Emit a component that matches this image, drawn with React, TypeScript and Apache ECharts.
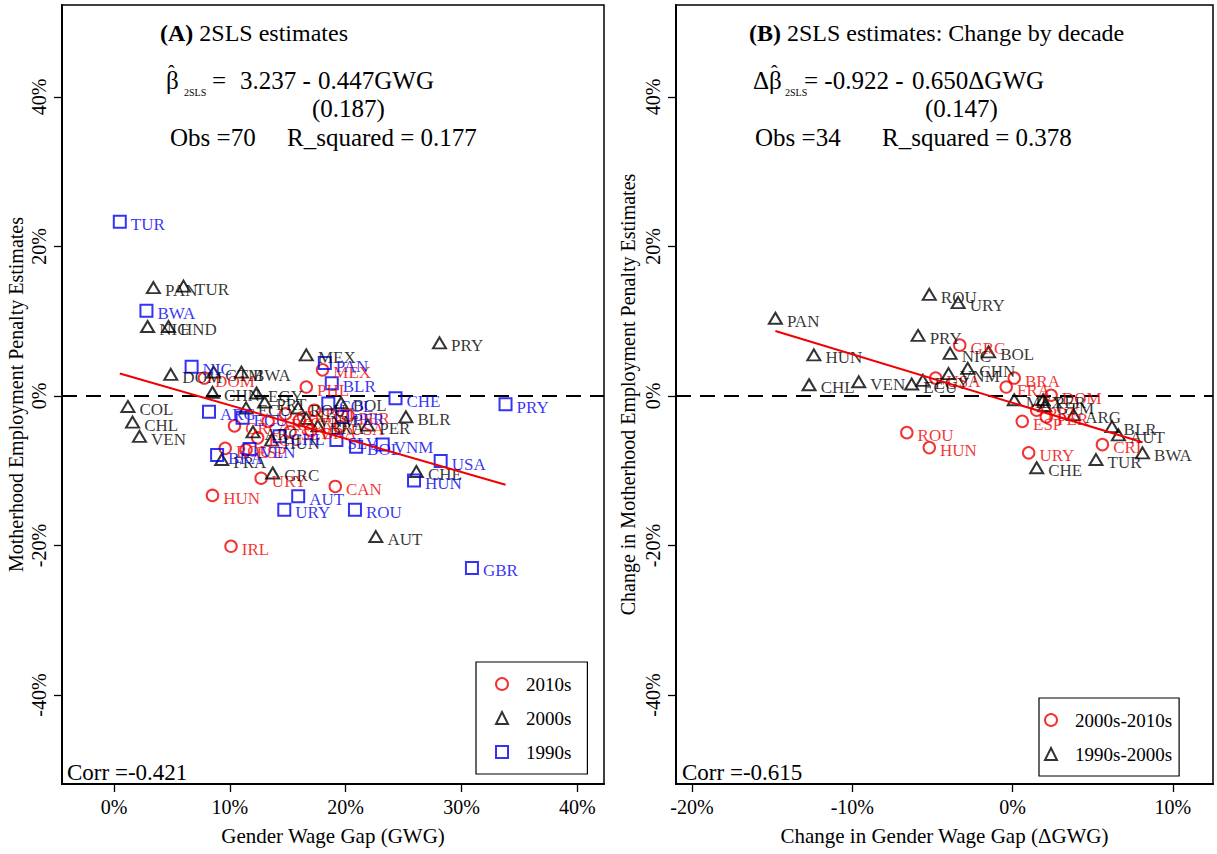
import React, { useEffect, useRef } from "react";
import * as echarts from "echarts";

const FONT = "'Liberation Serif', 'Times New Roman', Times, serif";
const RED = "#f00000";
const BLUE = "#0000f0";
const BLACK = "#000000";

// ---------- Panel A: levels (GWG %, penalty %) ----------
const a2010s: [string, number, number][] = [
  ["MEX", 18.0, 3.5], ["PHL", 16.6, 1.2], ["DOM", 7.8, 2.4], ["GRC", 10.4, -4.0],
  ["ROU", 9.6, -7.0], ["ESP", 11.4, -7.2], ["HUN", 8.5, -13.3], ["IRL", 10.1, -20.1],
  ["URY", 12.7, -11.0], ["CAN", 19.1, -12.1], ["ARG", 13.3, -3.4], ["CHL", 14.8, -2.4],
  ["CRI", 16.0, -3.3], ["BOL", 17.3, -1.9], ["BRA", 17.0, -4.6], ["USA", 19.5, -4.1],
  ["PER", 20.2, -2.6], ["ECU", 12.4, -5.6], ["SLV", 15.2, -4.8],
];
const a2000s: [string, number, number][] = [
  ["PAN", 3.4, 14.5], ["TUR", 6.0, 14.7], ["NIC", 2.9, 9.3], ["HND", 4.7, 9.3],
  ["DOM", 4.9, 2.9], ["GTM", 8.6, 3.2], ["BWA", 11.0, 3.2], ["MEX", 16.6, 5.5],
  ["PRY", 28.1, 7.1], ["CHN", 8.5, 0.5], ["EGY", 12.3, 0.4], ["PRT", 13.0, -0.8],
  ["ECU", 11.4, -1.6], ["COL", 1.2, -1.4], ["CHL", 1.6, -3.5], ["VEN", 2.2, -5.4],
  ["ARG", 12.0, -4.8], ["HUN", 13.6, -5.9], ["FRA", 9.3, -8.5], ["GRC", 13.7, -10.3],
  ["ROU", 15.9, -1.6], ["VNM", 16.6, -3.0], ["BRA", 17.6, -4.0], ["BOL", 19.6, -0.9],
  ["PER", 21.9, -3.9], ["BLR", 25.2, -2.8], ["CHE", 26.1, -10.1], ["AUT", 22.6, -18.8],
];
const a1990s: [string, number, number][] = [
  ["TUR", 0.5, 23.3], ["BWA", 2.8, 11.4], ["NIC", 6.7, 3.9], ["PAN", 18.2, 4.4],
  ["BLR", 18.8, 1.7], ["CHE", 24.3, -0.3], ["PRY", 33.8, -1.1], ["USA", 28.2, -8.7],
  ["HUN", 25.9, -11.3], ["ROU", 20.8, -15.2], ["GBR", 30.9, -23.0], ["AUT", 15.9, -13.4],
  ["URY", 14.7, -15.2], ["ARG", 8.2, -2.1], ["BRA", 8.9, -7.9], ["VEN", 11.7, -7.1],
  ["ECU", 11.1, -2.9], ["CHL", 14.3, -5.4], ["COL", 18.5, -1.0], ["PER", 19.7, -2.8],
  ["SLV", 19.2, -5.9], ["BOL", 20.9, -6.8], ["VNM", 23.2, -6.5],
];

// ---------- Panel B: changes by decade ----------
const b0010: [string, number, number][] = [
  ["ROU", -6.6, -4.9], ["HUN", -5.2, -6.9], ["GRC", -3.3, 6.8], ["USA", -4.8, 2.4],
  ["BRA", 0.1, 2.4], ["FRA", -0.4, 1.2], ["DOM", 2.4, 0.1], ["ESP", 0.6, -3.4],
  ["PRT", 1.5, -1.9], ["PER", 2.1, -2.8], ["URY", 1.0, -7.6], ["CRI", 5.6, -6.5],
];
const b9000: [string, number, number][] = [
  ["PAN", -14.8, 10.4], ["HUN", -12.4, 5.5], ["CHL", -12.7, 1.5], ["VEN", -9.6, 1.9],
  ["ECU", -6.3, 1.6], ["EGY", -5.6, 2.1], ["ROU", -5.2, 13.6], ["URY", -3.4, 12.5],
  ["PRY", -5.9, 8.1], ["NIC", -3.9, 5.7], ["BOL", -1.5, 5.9], ["CHN", -2.8, 3.7],
  ["VNM", -4.0, 3.0], ["MEX", 0.1, -0.5], ["PER", 1.9, -0.5], ["GTM", 2.0, -1.3],
  ["ARG", 3.8, -2.5], ["BLR", 6.2, -4.1], ["AUT", 6.6, -5.2], ["BWA", 8.1, -7.6],
  ["TUR", 5.2, -8.5], ["CHE", 1.5, -9.6],
];

// fitted lines (coefficients shown in the figure)
const fitA = { intercept: 3.237, slope: -0.447 };
const fitB = { intercept: -0.922, slope: -0.65 };

const xTicksA = [0, 10, 20, 30, 40];
const xTicksB = [-20, -10, 0, 10];
const yTicks = [-40, -20, 0, 20, 40];

const textStyle = (size: number, extra: any = {}) => ({
  font: `${size}px ${FONT}`,
  fontFamily: FONT,
  fontSize: size,
  fill: "#000",
  textVerticalAlign: "middle",
  verticalAlign: "middle",
  ...extra,
});

function scatter(name: string, rows: [string, number, number][], symbol: string, size: any, color: string, idx: number) {
  return {
    type: "scatter",
    name,
    xAxisIndex: idx,
    yAxisIndex: idx,
    symbol,
    symbolSize: size,
    data: rows.map((r) => ({ name: r[0], value: [r[1], r[2]] })),
    itemStyle: { color: "rgba(0,0,0,0)", borderColor: color, borderWidth: 2 },
    label: {
      show: true,
      position: "right",
      distance: 4,
      offset: [0, 3],
      formatter: "{b}",
      color,
      fontFamily: FONT,
      fontSize: 17,
    },
    emphasis: { disabled: true },
    z: 3,
  };
}

function fitLine(rowsList: [string, number, number][][], fit: { intercept: number; slope: number }, idx: number) {
  const xs = rowsList.flat().map((r) => r[1]);
  const x0 = Math.min(...xs);
  const x1 = Math.max(...xs);
  return {
    type: "line",
    name: "fit" + idx,
    xAxisIndex: idx,
    yAxisIndex: idx,
    symbol: "none",
    data: [
      [x0, fit.intercept + fit.slope * x0],
      [x1, fit.intercept + fit.slope * x1],
    ],
    lineStyle: { color: RED, width: 2 },
    z: 4,
    silent: true,
    markLine: {
      silent: true,
      symbol: ["none", "none"],
      label: { show: false },
      lineStyle: { color: "#000", width: 1.8, type: [15, 9] },
      data: [{ yAxis: 0 }],
      z: 2,
    },
  };
}

function xAxis(idx: number, min: number, max: number, ticks: number[], name: string) {
  return {
    gridIndex: idx,
    type: "value",
    min,
    max,
    splitLine: { show: false },
    axisLine: { show: true, onZero: false, lineStyle: { color: "#000", width: 2 } },
    axisTick: { show: true, customValues: ticks, length: 8, lineStyle: { color: "#000", width: 1.3 } },
    axisLabel: {
      customValues: ticks,
      formatter: (v: number) => v + "%",
      fontFamily: FONT,
      fontSize: 20,
      color: "#000",
      margin: 13,
    },
    name,
    nameLocation: "middle",
    nameGap: 41,
    nameTextStyle: { fontFamily: FONT, fontSize: 21, color: "#000" },
  };
}

function yAxis(idx: number, name: string, gap: number) {
  return {
    gridIndex: idx,
    type: "value",
    min: -51.9,
    max: 52.3,
    splitLine: { show: false },
    axisLine: { show: true, onZero: false, lineStyle: { color: "#000", width: 2 } },
    axisTick: { show: true, customValues: yTicks, length: 8, lineStyle: { color: "#000", width: 1.3 } },
    axisLabel: {
      customValues: yTicks,
      formatter: (v: number) => v + "%",
      fontFamily: FONT,
      fontSize: 20,
      color: "#000",
      rotate: 90,
      margin: 13,
    },
    name,
    nameLocation: "middle",
    nameGap: gap,
    nameRotate: 90,
    nameTextStyle: { fontFamily: FONT, fontSize: 20, color: "#000" },
  };
}

function legend(left: number, top: number, names: string[], padding: number[]) {
  return {
    orient: "vertical",
    left,
    top,
    data: names,
    itemWidth: 12,
    itemHeight: 12,
    itemGap: 14,
    symbolKeepAspect: true,
    borderColor: "#000",
    borderWidth: 1.2,
    padding,
    selectedMode: false,
    textStyle: { fontFamily: FONT, fontSize: 19, color: "#000", lineHeight: 20, padding: [0, 0, 0, 13] },
  };
}

export default function App() {
  const ref = useRef<HTMLDivElement>(null);
  useEffect(() => {
    if (!ref.current) return;
    const chart = echarts.init(ref.current, null, { renderer: "svg" });
    const bold = { fontWeight: "bold", fontFamily: FONT, fontSize: 24 };
    const option: any = {
      animation: false,
      backgroundColor: "#fff",
      grid: [
        { left: 62, top: 5, width: 542, height: 779, show: true, borderColor: "#000", borderWidth: 1.5, outerBoundsMode: "none" },
        { left: 676, top: 5, width: 537, height: 779, show: true, borderColor: "#000", borderWidth: 1.5, outerBoundsMode: "none" },
      ],
      xAxis: [
        xAxis(0, -4.49, 42.3, xTicksA, "Gender Wage Gap (GWG)"),
        xAxis(1, -21.0, 12.5, xTicksB, "Change in Gender Wage Gap (ΔGWG)"),
      ],
      yAxis: [
        yAxis(0, "Motherhood Employment Penalty Estimates", 36),
        yAxis(1, "Change in Motherhood Employment Penalty Estimates", 38),
      ],
      legend: [
        legend(476, 662, ["2010s", "2000s", "1990s"], [12, 16, 12, 19]),
        legend(1039, 698, ["2000s-2010s", "1990s-2000s"], [12, 7, 12, 5]),
      ],
      series: [
        fitLine([a2010s, a2000s, a1990s], fitA, 0),
        scatter("2010s", a2010s, "circle", 11.5, RED, 0),
        scatter("2000s", a2000s, "triangle", [13, 11], BLACK, 0),
        scatter("1990s", a1990s, "rect", 12, BLUE, 0),
        fitLine([b0010, b9000], fitB, 1),
        scatter("2000s-2010s", b0010, "circle", 11.5, RED, 1),
        scatter("1990s-2000s", b9000, "triangle", [13, 11], BLACK, 1),
      ],
      graphic: [
        // Panel A annotations
        { type: "text", x: 160, y: 33, style: textStyle(24, { text: "{b|(A)} 2SLS estimates", rich: { b: bold } }) },
        { type: "text", x: 166, y: 80, style: textStyle(25, { text: "β" }) },
        { type: "text", x: 168, y: 73, style: textStyle(20, { text: "ˆ" }) },
        { type: "text", x: 184, y: 92, style: textStyle(10, { text: "2SLS" }) },
        { type: "text", x: 212, y: 80, style: textStyle(25, { text: "=" }) },
        { type: "text", x: 240, y: 80, style: textStyle(25, { text: "3.237 -" }) },
        { type: "text", x: 318, y: 80, style: textStyle(25, { text: "0.447GWG" }) },
        { type: "text", x: 312, y: 108, style: textStyle(25, { text: "(0.187)" }) },
        { type: "text", x: 170, y: 137, style: textStyle(25, { text: "Obs =70" }) },
        { type: "text", x: 287, y: 137, style: textStyle(25, { text: "R_squared = 0.177" }) },
        { type: "text", x: 67, y: 772, style: textStyle(23, { text: "Corr =-0.421" }) },
        // Panel B annotations
        { type: "text", x: 749, y: 33, style: textStyle(24, { text: "{b|(B)} 2SLS estimates: Change by decade", rich: { b: bold } }) },
        { type: "text", x: 753, y: 80, style: textStyle(25, { text: "Δβ" }) },
        { type: "text", x: 771, y: 73, style: textStyle(20, { text: "ˆ" }) },
        { type: "text", x: 785, y: 92, style: textStyle(10, { text: "2SLS" }) },
        { type: "text", x: 804, y: 80, style: textStyle(25, { text: "= -0.922 -" }) },
        { type: "text", x: 912, y: 80, style: textStyle(25, { text: "0.650ΔGWG" }) },
        { type: "text", x: 925, y: 108, style: textStyle(25, { text: "(0.147)" }) },
        { type: "text", x: 755, y: 137, style: textStyle(25, { text: "Obs =34" }) },
        { type: "text", x: 882, y: 137, style: textStyle(25, { text: "R_squared = 0.378" }) },
        { type: "text", x: 682, y: 772, style: textStyle(23, { text: "Corr =-0.615" }) },
      ],
    };
    chart.setOption(option);
    return () => chart.dispose();
  }, []);
  return <div ref={ref} style={{ position: "absolute", left: 0, top: 0, width: 1217, height: 854 }} />;
}
